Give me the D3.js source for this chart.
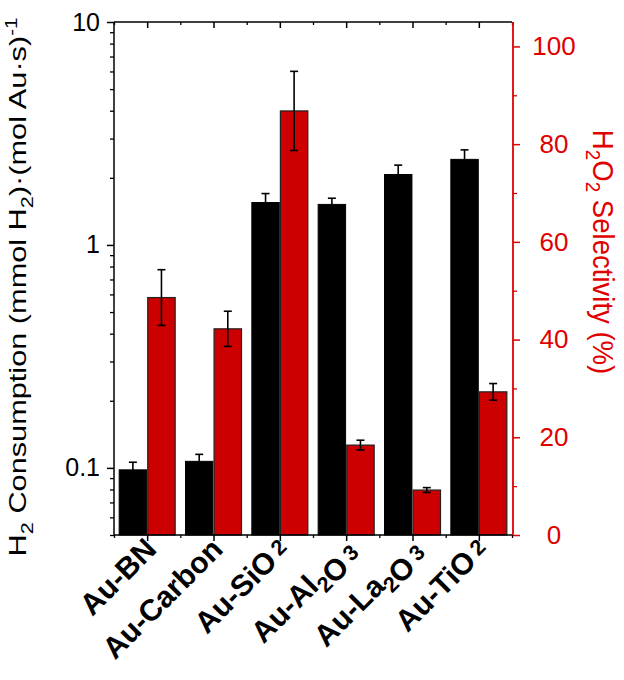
<!DOCTYPE html>
<html><head><meta charset="utf-8">
<script src="https://cdn.jsdelivr.net/npm/d3@7"></script>
<style>body{margin:0;background:#fff} text{font-family:"Liberation Sans",Arial,sans-serif}</style>
</head><body><svg id="c" width="624" height="680"></svg>
<script>
const categories = ["Au-BN","Au-Carbon","Au-SiO2","Au-Al2O3","Au-La2O3","Au-TiO2"];
const h2Consumption = [0.098,0.107,1.55,1.52,2.07,2.42];
const h2Error = [0.008,0.008,0.15,0.10,0.21,0.25];
const selectivity = [48.6,42.2,86.8,18.4,9.2,29.3];
const selError = [5.7,3.6,8.1,1.0,0.5,1.7];
const leftTicks = [0.1,1,10];
const leftMinor = [0.05,0.06,0.07,0.08,0.09,0.2,0.3,0.4,0.5,0.6,0.7,0.8,0.9,2,3,4,5,6,7,8,9];
const rightTicks = [0,20,40,60,80,100];
const rightMinor = [10,30,50,70,90];

const RED = "#cc0000", AXRED = "#e00000";
const svg = d3.select("#c");
const X0 = 114, X1 = 512, Y0 = 535, Y1 = 22;
const x = d3.scaleBand().domain(categories).range([X0, X1]).padding(0);
const x1 = d3.scaleBand().domain(["h2","sel"]).range([-28, 28]).paddingInner(0.04);
const yL = d3.scaleLog().domain([0.05, 10]).range([Y0, Y1]);
const yR = d3.scaleLinear().domain([0, 105]).range([Y0, Y1]);
const cx = c => x(c) + x.bandwidth()/2;

// bars
const g = svg.append("g");
categories.forEach((c, i) => {
  const bx = cx(c) + x1("h2");
  g.append("rect").attr("x", bx).attr("width", x1.bandwidth())
    .attr("y", yL(h2Consumption[i])).attr("height", yL(0.05) - yL(h2Consumption[i]))
    .attr("fill", "#000").attr("stroke", "#000").attr("stroke-width", 1);
  const rx = cx(c) + x1("sel");
  g.append("rect").attr("x", rx).attr("width", x1.bandwidth())
    .attr("y", yR(selectivity[i])).attr("height", yR(0) - yR(selectivity[i]))
    .attr("fill", RED).attr("stroke", "#222").attr("stroke-width", 1.2);
});
// error bars
function err(xc, yTop, yBot) {
  g.append("line").attr("x1", xc).attr("x2", xc).attr("y1", yTop).attr("y2", yBot).attr("stroke", "#000").attr("stroke-width", 1.6);
  [yTop, yBot].forEach(yy => g.append("line").attr("x1", xc-4).attr("x2", xc+4).attr("y1", yy).attr("y2", yy).attr("stroke", "#000").attr("stroke-width", 1.6));
}
categories.forEach((c, i) => {
  err(cx(c) + x1("h2") + x1.bandwidth()/2, yL(h2Consumption[i] + h2Error[i]), yL(h2Consumption[i] - h2Error[i]));
  err(cx(c) + x1("sel") + x1.bandwidth()/2, yR(selectivity[i] + selError[i]), yR(selectivity[i] - selError[i]));
});

// frame
svg.append("line").attr("x1", X0).attr("x2", X1).attr("y1", Y1).attr("y2", Y1).attr("stroke", "#000").attr("stroke-width", 1.5);

// left axis
const la = svg.append("g").attr("transform", `translate(${X0},0)`)
  .call(d3.axisLeft(yL).tickValues(leftTicks).tickSize(7).tickFormat(d3.format("~g")).tickPadding(8));
la.select(".domain").attr("stroke-width", 1.5).attr("d", `M0,${Y0}V${Y1}`);
la.selectAll(".tick line").attr("stroke-width", 1.5);
la.selectAll(".tick text").attr("font-size", 25).attr("fill", "#000").attr("x", -14);
const lm = svg.append("g").attr("transform", `translate(${X0},0)`)
  .call(d3.axisLeft(yL).tickValues(leftMinor).tickSize(4).tickFormat(""));
lm.select(".domain").remove();
lm.selectAll(".tick line").attr("stroke-width", 1.3);

// bottom axis
const mids = categories.map(cx);
const bounds = d3.range(categories.length + 1).map(i => X0 + i * x.bandwidth());
const xb = d3.scaleLinear().domain([X0, X1]).range([X0, X1]);
const ba = svg.append("g").attr("transform", `translate(0,${Y0})`)
  .call(d3.axisBottom(xb).tickValues(mids).tickSize(6).tickFormat(""));
ba.select(".domain").attr("stroke-width", 1.5).attr("d", `M${X0},0H${X1}`);
ba.selectAll(".tick line").attr("stroke-width", 1.5);
const bm = svg.append("g").attr("transform", `translate(0,${Y0})`)
  .call(d3.axisBottom(xb).tickValues(bounds).tickSize(3).tickFormat(""));
bm.select(".domain").remove(); bm.selectAll(".tick line").attr("stroke-width", 1.3);
// top ticks (inward)
const ta = svg.append("g").attr("transform", `translate(0,${Y1})`)
  .call(d3.axisBottom(xb).tickValues(mids).tickSize(6).tickFormat(""));
ta.select(".domain").remove(); ta.selectAll(".tick line").attr("stroke-width", 1.5);
const tm = svg.append("g").attr("transform", `translate(0,${Y1})`)
  .call(d3.axisBottom(xb).tickValues(bounds).tickSize(3).tickFormat(""));
tm.select(".domain").remove(); tm.selectAll(".tick line").attr("stroke-width", 1.3);

// right axis
const ra = svg.append("g").attr("transform", `translate(${X1+1},0)`)
  .call(d3.axisRight(yR).tickValues(rightTicks).tickSize(7).tickPadding(8));
ra.select(".domain").attr("stroke", AXRED).attr("stroke-width", 1.8).attr("d", `M0,${Y0}V${Y1}`);
ra.selectAll(".tick line").attr("stroke", AXRED).attr("stroke-width", 1.5);
ra.selectAll(".tick text").attr("font-size", 26).attr("fill", AXRED).attr("text-anchor", "middle").attr("x", 41);
const rm = svg.append("g").attr("transform", `translate(${X1+1},0)`)
  .call(d3.axisRight(yR).tickValues(rightMinor).tickSize(4).tickFormat(""));
rm.select(".domain").remove(); rm.selectAll(".tick line").attr("stroke", AXRED).attr("stroke-width", 1.3);

// x labels
function addChem(t, label, fs) {
  const parts = label.match(/[0-9]+|[^0-9]+/g);
  parts.forEach((p, j) => {
    if (/^[0-9]+$/.test(p)) {
      const last = j === parts.length - 1;
      const sh = last ? -4 : 8;
      t.append("tspan").text(p).attr("font-size", fs*0.72).attr("dx", last ? 5 : 0).attr("dy", sh);
      if (!last) t.append("tspan").attr("dy", -sh).text("");
    } else {
      t.append("tspan").text(p);
    }
  });
}
categories.forEach(c => {
  const t = svg.append("text").attr("font-size", 30).attr("font-weight", "bold").attr("text-anchor", "end")
    .attr("transform", `translate(${cx(c)+11},${Y0+16}) rotate(-45)`);
  addChem(t, c, 30);
});

// left title (stretched along text direction as in the reference)
const lt = svg.append("text").attr("font-size", 24).attr("text-anchor", "middle")
  .attr("transform", `translate(26,${287}) rotate(-90) scale(1.28,1)`);
lt.append("tspan").text("H");
lt.append("tspan").text("2").attr("font-size", 17).attr("dy", 7);
lt.append("tspan").text(" Consumption (mmol H").attr("dy", -7);
lt.append("tspan").text("2").attr("font-size", 17).attr("dy", 7);
lt.append("tspan").text(")·(mol Au·s)").attr("dy", -7);
lt.append("tspan").text("-1").attr("font-size", 16).attr("dy", -9);

// right title
const rt = svg.append("text").attr("font-size", 29).attr("text-anchor", "middle").attr("fill", AXRED)
  .attr("transform", `translate(593,${252}) rotate(90) scale(0.95,1)`);
rt.append("tspan").text("H");
rt.append("tspan").text("2").attr("font-size", 20).attr("dy", 7);
rt.append("tspan").text("O").attr("dy", -7);
rt.append("tspan").text("2").attr("font-size", 20).attr("dy", 7);
rt.append("tspan").text(" Selectivity (%)").attr("dy", -7);
</script></body></html>
